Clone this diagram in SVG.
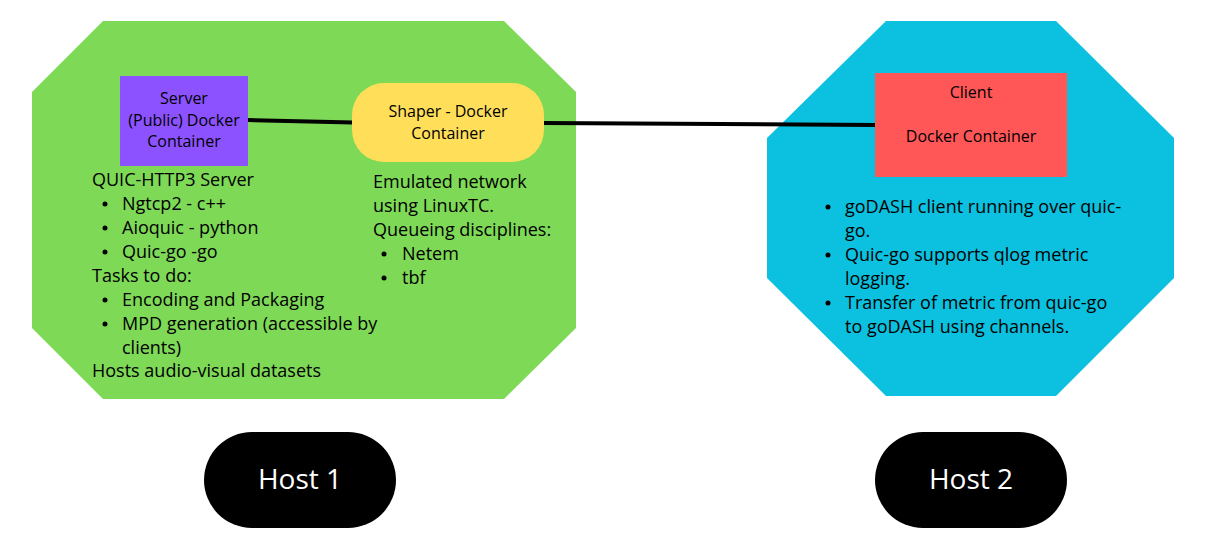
<svg xmlns="http://www.w3.org/2000/svg" width="1206" height="547" viewBox="0 0 1206 547">
<style>
.t{font-family:"Open Sans","Liberation Sans",sans-serif;fill:#000;}
.s15{font-size:16px;}
.s17{font-size:18px;}
.h{font-family:"Open Sans","Liberation Sans",sans-serif;font-size:28px;fill:#fff;}
.c{text-anchor:middle;}
.link{stroke:#000;stroke-width:4;fill:none;}
</style>
<rect width="1206" height="547" fill="#fff"/>
<g id="host1-area">
<polygon points="103,21 504,21 576,92 576,328 504,399 103,399 32,328 32,92" fill="#7ed957"/>
</g>
<g id="host2-area">
<polygon points="886,21 1056,21 1174,138 1174,278 1056,396 886,396 767,278 767,138" fill="#0cc0df"/>
</g>
<g id="connectors">
<line class="link" x1="248" y1="120" x2="353" y2="122.5"/>
<line class="link" x1="543" y1="123" x2="876" y2="125"/>
</g>
<g id="server">
<rect x="120" y="76" width="128" height="90" fill="#8c52ff"/>
<text class="t s15 c" x="184" y="104">Server</text>
<text class="t s15 c" x="184" y="126">(Public) Docker</text>
<text class="t s15 c" x="184" y="147">Container</text>
</g>
<g id="server-notes">
<text class="t s17" x="92" y="186">QUIC-HTTP3 Server</text>
<circle cx="105" cy="204" r="2.5"/><text class="t s17" x="122" y="210">Ngtcp2 - c++</text>
<circle cx="105" cy="228" r="2.5"/><text class="t s17" x="122" y="234">Aioquic - python</text>
<circle cx="105" cy="252" r="2.5"/><text class="t s17" x="122" y="258">Quic-go -go</text>
<text class="t s17" x="92" y="282">Tasks to do:</text>
<circle cx="105" cy="300" r="2.5"/><text class="t s17" x="122" y="306">Encoding and Packaging</text>
<circle cx="105" cy="324" r="2.5"/><text class="t s17" x="122" y="330">MPD generation (accessible by</text>
<text class="t s17" x="122" y="354">clients)</text>
<text class="t s17" x="92" y="377">Hosts audio-visual datasets</text>
</g>
<g id="shaper">
<rect x="352" y="83" width="192" height="79" rx="32" fill="#ffde59"/>
<text class="t s15 c" x="448" y="117">Shaper - Docker</text>
<text class="t s15 c" x="448" y="139">Container</text>
</g>
<g id="shaper-notes">
<text class="t s17" x="373" y="188">Emulated network</text>
<text class="t s17" x="373" y="212">using LinuxTC.</text>
<text class="t s17" x="373" y="236">Queueing disciplines:</text>
<circle cx="384" cy="254" r="2.5"/><text class="t s17" x="402" y="260">Netem</text>
<circle cx="384" cy="278" r="2.5"/><text class="t s17" x="402" y="284">tbf</text>
</g>
<g id="client">
<rect x="875" y="73" width="192" height="104" fill="#ff5757"/>
<text class="t s15 c" x="971" y="98">Client</text>
<text class="t s15 c" x="971" y="142">Docker Container</text>
</g>
<g id="client-notes">
<circle cx="828" cy="207" r="2.5"/><text class="t s17" x="845" y="213">goDASH client running over quic-</text>
<text class="t s17" x="845" y="237">go.</text>
<circle cx="828" cy="255" r="2.5"/><text class="t s17" x="845" y="261">Quic-go supports qlog metric</text>
<text class="t s17" x="845" y="285">logging.</text>
<circle cx="828" cy="303" r="2.5"/><text class="t s17" x="845" y="309">Transfer of metric from quic-go</text>
<text class="t s17" x="845" y="333">to goDASH using channels.</text>
</g>
<g id="host1">
<rect x="204" y="432" width="192" height="96" rx="48" fill="#000"/>
<text class="h c" x="300" y="489">Host 1</text>
</g>
<g id="host2">
<rect x="875" y="432" width="192" height="96" rx="48" fill="#000"/>
<text class="h c" x="971" y="489">Host 2</text>
</g>
</svg>
